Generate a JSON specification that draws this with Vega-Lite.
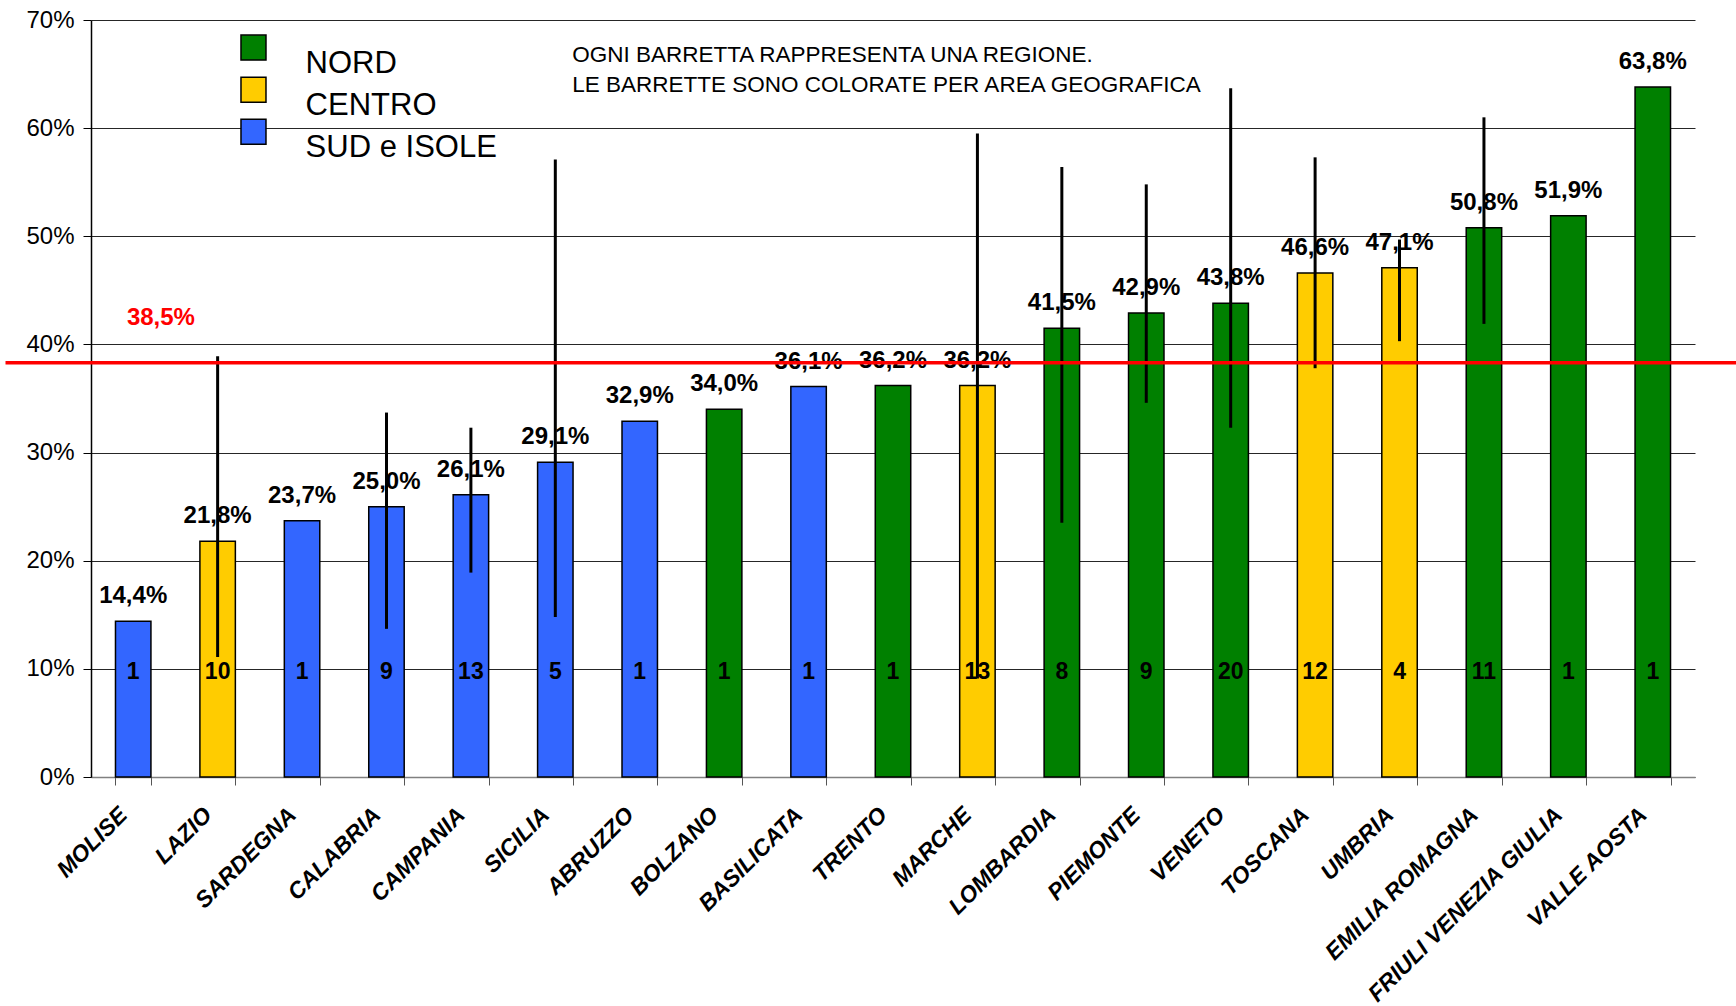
{
  "$schema": "https://vega.github.io/schema/vega-lite/v6.json",
  "autosize": {"type": "none"},
  "padding": {"left": 91, "top": 20, "right": 41, "bottom": 229},
  "width": 1604,
  "height": 757,
  "background": "white",
  "config": {
    "locale": {"number": {"decimal": ",", "thousands": ".", "grouping": [3], "currency": ["€", ""]}},
    "view": {"stroke": null},
    "font": "Liberation Sans"
  },
  "datasets": {
    "regions": [
      {"region": "MOLISE", "area": "SUD e ISOLE", "value": 0.144, "n": 1, "lo": null, "hi": null},
      {"region": "LAZIO", "area": "CENTRO", "value": 0.218, "n": 10, "lo": 0.111, "hi": 0.389},
      {"region": "SARDEGNA", "area": "SUD e ISOLE", "value": 0.237, "n": 1, "lo": null, "hi": null},
      {"region": "CALABRIA", "area": "SUD e ISOLE", "value": 0.250, "n": 9, "lo": 0.137, "hi": 0.337},
      {"region": "CAMPANIA", "area": "SUD e ISOLE", "value": 0.261, "n": 13, "lo": 0.189, "hi": 0.323},
      {"region": "SICILIA", "area": "SUD e ISOLE", "value": 0.291, "n": 5, "lo": 0.148, "hi": 0.571},
      {"region": "ABRUZZO", "area": "SUD e ISOLE", "value": 0.329, "n": 1, "lo": null, "hi": null},
      {"region": "BOLZANO", "area": "NORD", "value": 0.340, "n": 1, "lo": null, "hi": null},
      {"region": "BASILICATA", "area": "SUD e ISOLE", "value": 0.361, "n": 1, "lo": null, "hi": null},
      {"region": "TRENTO", "area": "NORD", "value": 0.362, "n": 1, "lo": null, "hi": null},
      {"region": "MARCHE", "area": "CENTRO", "value": 0.362, "n": 13, "lo": 0.091, "hi": 0.595},
      {"region": "LOMBARDIA", "area": "NORD", "value": 0.415, "n": 8, "lo": 0.235, "hi": 0.564},
      {"region": "PIEMONTE", "area": "NORD", "value": 0.429, "n": 9, "lo": 0.346, "hi": 0.548},
      {"region": "VENETO", "area": "NORD", "value": 0.438, "n": 20, "lo": 0.323, "hi": 0.637},
      {"region": "TOSCANA", "area": "CENTRO", "value": 0.466, "n": 12, "lo": 0.378, "hi": 0.573},
      {"region": "UMBRIA", "area": "CENTRO", "value": 0.471, "n": 4, "lo": 0.403, "hi": 0.497},
      {"region": "EMILIA ROMAGNA", "area": "NORD", "value": 0.508, "n": 11, "lo": 0.419, "hi": 0.610},
      {"region": "FRIULI VENEZIA GIULIA", "area": "NORD", "value": 0.519, "n": 1, "lo": null, "hi": null},
      {"region": "VALLE AOSTA", "area": "NORD", "value": 0.638, "n": 1, "lo": null, "hi": null}
    ],
    "areas": [
      {"area": "NORD"},
      {"area": "CENTRO"},
      {"area": "SUD e ISOLE"}
    ]
  },
  "resolve": {"scale": {"x": "independent", "y": "independent"}, "axis": {"x": "independent", "y": "independent"}},
  "layer": [
    {
      "data": {"name": "regions"},
      "layer": [
        {
          "mark": {"type": "bar", "stroke": "black", "strokeWidth": 1.5},
          "encoding": {
            "x": {
              "field": "region", "type": "nominal", "sort": null,
              "scale": {"paddingInner": 0.58, "paddingOuter": 0.29},
              "axis": {
                "title": null, "labelAngle": -45, "labelAlign": "right", "labelBaseline": "middle",
                "labelFont": "Liberation Sans", "labelFontWeight": "bold", "labelFontStyle": "italic",
                "labelFontSize": 23, "labelColor": "black", "labelPadding": 26, "labelOffset": -10,
                "labelLimit": 500,
                "tickBand": "extent", "tickSize": 8, "tickColor": "#555555", "domainColor": "#808080",
                "domainWidth": 1.5, "grid": false, "labelOverlap": false
              }
            },
            "y": {
              "field": "value", "type": "quantitative",
              "scale": {"domain": [0, 0.7], "nice": false},
              "axis": {
                "title": null, "format": ".0%", "values": [0, 0.1, 0.2, 0.3, 0.4, 0.5, 0.6, 0.7],
                "labelFontSize": 24, "labelColor": "black", "labelPadding": 9,
                "tickSize": 8, "tickColor": "black", "domainColor": "black", "domainWidth": 1.5,
                "grid": true, "gridColor": "black", "gridWidth": 1, "gridOpacity": 0.85
              }
            },
            "color": {
              "field": "area", "type": "nominal",
              "scale": {"domain": ["NORD", "CENTRO", "SUD e ISOLE"], "range": ["#008000", "#FFCC00", "#3366FF"]},
              "legend": null
            }
          }
        },
        {
          "mark": {"type": "text", "fontWeight": "bold", "fontSize": 24, "baseline": "middle", "dy": -25, "color": "black"},
          "encoding": {
            "x": {"field": "region", "type": "nominal", "sort": null},
            "y": {"field": "value", "type": "quantitative"},
            "text": {"field": "value", "type": "quantitative", "format": ".1%"}
          }
        },
        {
          "mark": {"type": "text", "fontWeight": "bold", "fontSize": 23, "baseline": "middle", "color": "black"},
          "encoding": {
            "x": {"field": "region", "type": "nominal", "sort": null},
            "y": {"datum": 0.097, "type": "quantitative"},
            "text": {"field": "n", "type": "quantitative"}
          }
        },
        {
          "transform": [{"filter": "datum.lo != null"}],
          "mark": {"type": "rule", "strokeWidth": 3, "color": "black"},
          "encoding": {
            "x": {"field": "region", "type": "nominal", "sort": null},
            "y": {"field": "lo", "type": "quantitative"},
            "y2": {"field": "hi"}
          }
        }
      ]
    },
    {
      "data": {"values": [{}]},
      "layer": [
        {
          "mark": {"type": "rule", "color": "#FF0000", "strokeWidth": 3.5, "clip": false},
          "encoding": {
            "x": {"datum": -0.0533, "type": "quantitative", "scale": {"domain": [0, 1], "nice": false, "zero": false}, "axis": null},
            "x2": {"datum": 1.0635},
            "y": {"datum": 0.383, "type": "quantitative", "scale": {"domain": [0, 0.7], "nice": false}, "axis": null}
          }
        },
        {
          "mark": {"type": "text", "color": "#FF0000", "fontWeight": "bold", "fontSize": 24, "align": "center", "baseline": "middle"},
          "encoding": {
            "x": {"datum": 0.0436, "type": "quantitative"},
            "y": {"datum": 0.424, "type": "quantitative"},
            "text": {"datum": 0.385, "format": ".1%"}
          }
        },
        {
          "mark": {"type": "text", "color": "black", "fontSize": 22.5, "align": "left", "baseline": "alphabetic", "lineHeight": 30},
          "encoding": {
            "x": {"datum": 0.30, "type": "quantitative"},
            "y": {"datum": 0.661, "type": "quantitative"},
            "text": {"value": ["OGNI BARRETTA RAPPRESENTA UNA REGIONE.", "LE BARRETTE SONO COLORATE PER AREA GEOGRAFICA"]}
          }
        }
      ]
    },
    {
      "data": {"name": "areas"},
      "layer": [
        {
          "mark": {"type": "square", "size": 625, "filled": true, "opacity": 1, "stroke": "black", "strokeWidth": 1.5},
          "encoding": {
            "x": {"datum": 0.1013, "type": "quantitative", "scale": {"domain": [0, 1], "nice": false, "zero": false}, "axis": null},
            "y": {"field": "area", "type": "nominal", "sort": null, "scale": {"type": "point", "domain": ["NORD", "CENTRO", "SUD e ISOLE"], "range": [27.6, 111.8], "padding": 0}, "axis": null},
            "color": {"field": "area", "type": "nominal", "legend": null}
          }
        },
        {
          "mark": {"type": "text", "fontSize": 31, "align": "left", "baseline": "middle", "dy": 16, "color": "black"},
          "encoding": {
            "x": {"datum": 0.1338, "type": "quantitative"},
            "y": {"field": "area", "type": "nominal", "sort": null},
            "text": {"field": "area", "type": "nominal"}
          }
        }
      ]
    }
  ]
}
